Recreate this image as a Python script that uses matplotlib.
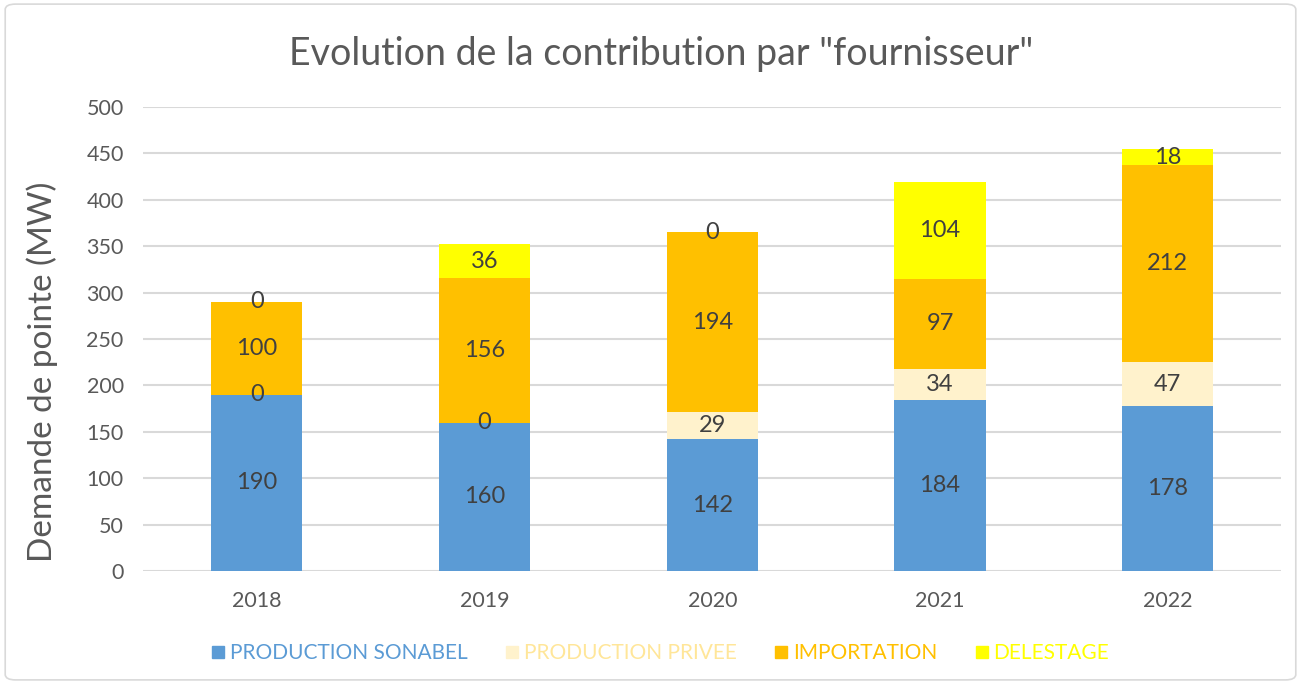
import numpy as np
import matplotlib.pyplot as plt
from matplotlib.lines import Line2D
from matplotlib.patches import FancyBboxPatch

# Data
years = ['2018', '2019', '2020', '2021', '2022']
sonabel = [190, 160, 142, 184, 178]
privee = [0, 0, 29, 34, 47]
importation = [100, 156, 194, 97, 212]
delestage = [0, 36, 0, 104, 18]

series = [
    ('PRODUCTION SONABEL', sonabel, '#5B9BD5', '#5B9BD5'),
    ('PRODUCTION PRIVEE', privee, '#FFF2CC', '#FFE699'),
    ('IMPORTATION', importation, '#FFC000', '#FFC000'),
    ('DELESTAGE', delestage, '#FFFF00', '#FFFF00'),
]

plt.rcParams['font.family'] = ['Lato', 'DejaVu Sans']

fig = plt.figure(figsize=(13.01, 6.84), dpi=100)
ax = fig.add_axes([0.110, 0.165, 0.875, 0.6786])

# light border round the whole chart
fig.patches.append(FancyBboxPatch((0.004, 0.006), 0.992, 0.988,
                                  boxstyle='round,pad=0,rounding_size=0.008',
                                  transform=fig.transFigure, fill=False,
                                  edgecolor='#D9D9D9', linewidth=1.2))

x = np.arange(len(years))
bottom = np.zeros(len(years))
handles = []
for name, vals, color, txtcolor in series:
    vals = np.array(vals, dtype=float)
    ax.bar(x, vals, width=0.4, bottom=bottom, color=color, zorder=3)
    for i in range(len(x)):
        ax.text(x[i], bottom[i] + vals[i] / 2, str(int(vals[i])),
                ha='center', va='center', fontsize=17,
                color='#404040', zorder=4)
    bottom += vals
    handles.append(Line2D([], [], marker='s', linestyle='none', markersize=8,
                          markerfacecolor=color, markeredgecolor=color))

ax.set_xlim(-0.5, 4.5)
ax.set_ylim(0, 500)
ax.set_yticks(np.arange(0, 501, 50))
ax.set_xticks(x)
ax.set_xticklabels(years)
ax.yaxis.grid(True, color='#D9D9D9', linewidth=1.5, zorder=0)
ax.set_axisbelow(True)
for s in ax.spines.values():
    s.set_visible(False)
ax.tick_params(axis='both', length=0, labelsize=15.5, colors='#595959', pad=14)

ax.set_ylabel('Demande de pointe (MW)', fontsize=24, color='#595959')
ax.yaxis.set_label_coords(-0.075, 0.43)
fig.suptitle('Evolution de la contribution par "fournisseur"', fontsize=27,
             color='#595959', x=0.508, y=0.948)

leg = fig.legend(handles, [s[0] for s in series], loc='center',
                 bbox_to_anchor=(0.508, 0.045), ncol=4, frameon=False,
                 fontsize=15, handlelength=0.5, handletextpad=0.3,
                 columnspacing=1.9, labelcolor=[s[3] for s in series])

fig.savefig('out.png', dpi=100)
